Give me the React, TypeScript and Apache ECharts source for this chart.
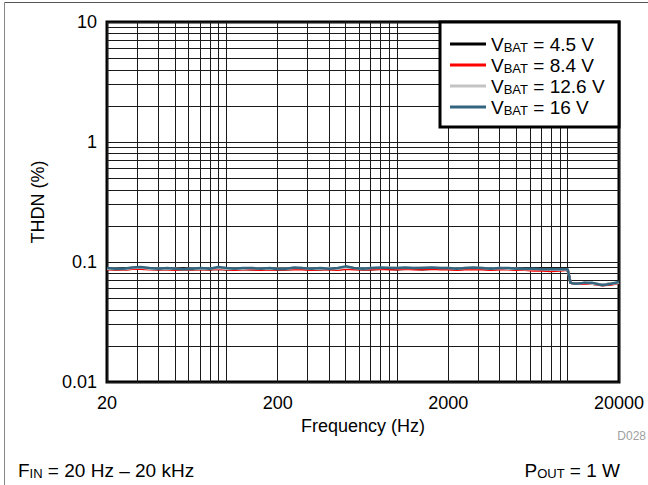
import React, { useEffect, useRef } from "react";
import * as echarts from "echarts";

// Measurement frequencies (Hz)
const freqs = [
  20, 22.4, 25, 28, 31.5, 35.5, 40, 45, 50, 56,
  63, 71, 80, 90, 100, 112, 125, 140, 160, 180,
  200, 224, 250, 280, 315, 355, 400, 450, 500, 560,
  630, 710, 800, 900, 1000, 1120, 1250, 1400, 1600, 1800,
  2000, 2240, 2500, 2800, 3150, 3550, 4000, 4500, 5000, 5600,
  6300, 7100, 8000, 9000, 10000, 10400, 11200, 12500, 14000, 16000,
  18000, 20000,
];

// THD+N (%) for each supply voltage
const thdn45 = [
  0.088, 0.087, 0.087, 0.088, 0.089, 0.088, 0.087, 0.088, 0.087, 0.087,
  0.087, 0.088, 0.087, 0.088, 0.087, 0.087, 0.088, 0.087, 0.087, 0.088,
  0.087, 0.087, 0.088, 0.088, 0.087, 0.087, 0.088, 0.087, 0.088, 0.088,
  0.087, 0.087, 0.088, 0.088, 0.087, 0.088, 0.088, 0.087, 0.088, 0.088,
  0.088, 0.087, 0.088, 0.088, 0.088, 0.087, 0.088, 0.088, 0.087, 0.087,
  0.087, 0.086, 0.086, 0.087, 0.087, 0.067, 0.066, 0.067, 0.066, 0.065,
  0.066, 0.067,
];
const thdn84 = [
  0.087, 0.087, 0.086, 0.088, 0.088, 0.087, 0.087, 0.087, 0.086, 0.086,
  0.087, 0.087, 0.087, 0.088, 0.087, 0.086, 0.087, 0.087, 0.086, 0.087,
  0.086, 0.087, 0.087, 0.087, 0.086, 0.087, 0.087, 0.086, 0.088, 0.087,
  0.087, 0.087, 0.088, 0.087, 0.087, 0.088, 0.087, 0.087, 0.088, 0.087,
  0.087, 0.086, 0.087, 0.087, 0.087, 0.086, 0.087, 0.087, 0.086, 0.086,
  0.085, 0.085, 0.084, 0.085, 0.086, 0.067, 0.066, 0.066, 0.066, 0.064,
  0.065, 0.067,
];
const thdn126 = [
  0.088, 0.088, 0.087, 0.089, 0.090, 0.088, 0.088, 0.088, 0.088, 0.087,
  0.088, 0.088, 0.088, 0.089, 0.088, 0.088, 0.088, 0.089, 0.088, 0.088,
  0.088, 0.088, 0.089, 0.089, 0.088, 0.088, 0.089, 0.088, 0.090, 0.089,
  0.088, 0.089, 0.089, 0.090, 0.089, 0.089, 0.089, 0.090, 0.090, 0.089,
  0.089, 0.088, 0.089, 0.089, 0.089, 0.088, 0.089, 0.088, 0.088, 0.087,
  0.087, 0.087, 0.086, 0.086, 0.087, 0.067, 0.066, 0.067, 0.066, 0.065,
  0.066, 0.067,
];
const thdn16 = [
  0.089, 0.088, 0.088, 0.090, 0.091, 0.089, 0.088, 0.089, 0.088, 0.087,
  0.088, 0.089, 0.088, 0.091, 0.089, 0.088, 0.089, 0.089, 0.088, 0.089,
  0.087, 0.088, 0.090, 0.089, 0.088, 0.089, 0.088, 0.089, 0.092, 0.089,
  0.088, 0.089, 0.090, 0.089, 0.089, 0.090, 0.089, 0.089, 0.090, 0.089,
  0.089, 0.088, 0.089, 0.090, 0.089, 0.088, 0.089, 0.089, 0.088, 0.088,
  0.088, 0.087, 0.087, 0.087, 0.087, 0.067, 0.066, 0.067, 0.067, 0.064,
  0.066, 0.068,
];

const seriesNames = ["4.5", "8.4", "12.6", "16"];
const seriesColors = ["#000000", "#ff0000", "#c4c4c4", "#33657f"];
const seriesValues = [thdn45, thdn84, thdn126, thdn16];

// Axis labels and grid-line positions
const xLabelValues = [20, 200, 2000, 20000];
const xGridValues = [
  20, 30, 40, 50, 60, 70, 80, 90, 100,
  200, 300, 400, 500, 600, 700, 800, 900, 1000,
  2000, 3000, 4000, 5000, 6000, 7000, 8000, 9000, 10000, 20000,
];
const yLabelValues = [0.01, 0.1, 1, 10];
const yGridValues = [
  0.01, 0.02, 0.03, 0.04, 0.05, 0.06, 0.07, 0.08, 0.09,
  0.1, 0.2, 0.3, 0.4, 0.5, 0.6, 0.7, 0.8, 0.9,
  1, 2, 3, 4, 5, 6, 7, 8, 9, 10,
];

const FONT = "Liberation Sans, Arial, Helvetica, sans-serif";

const subRich = {
  v: { fontSize: 19, lineHeight: 19, color: "#000", fill: "#000", fontFamily: FONT },
  s: {
    fontSize: 13,
    lineHeight: 13,
    padding: [7, 0, 0, 0],
    color: "#000",
    fill: "#000",
    fontFamily: FONT,
  },
};

export default function App() {
  const ref = useRef<HTMLDivElement>(null);

  useEffect(() => {
    if (!ref.current) return;
    const chart = echarts.init(ref.current, undefined, { renderer: "svg" });

    const gridLine = { show: true, lineStyle: { color: "#1a1a1a", width: 1 } };

    chart.setOption({
      animation: false,
      backgroundColor: "#fff",
      textStyle: { fontFamily: FONT },
      grid: {
        left: 107,
        right: 29,
        top: 22,
        bottom: 103,
        show: true,
        borderColor: "#000",
        borderWidth: 3,
        backgroundColor: "transparent",
      },
      xAxis: {
        type: "log",
        logBase: 10,
        min: 20,
        max: 20000,
        name: "Frequency (Hz)",
        nameLocation: "middle",
        nameGap: 29,
        nameTextStyle: { fontSize: 18, color: "#000", fontFamily: FONT },
        axisLine: { show: false },
        axisTick: { show: false, customValues: xGridValues },
        splitLine: gridLine,
        axisLabel: {
          customValues: xLabelValues,
          formatter: (v: number) => String(Math.round(v)),
          fontSize: 18,
          color: "#000",
          margin: 12,
          fontFamily: FONT,
        },
      },
      yAxis: {
        type: "log",
        logBase: 10,
        min: 0.01,
        max: 10,
        name: "THDN (%)",
        nameLocation: "middle",
        nameGap: 60,
        nameRotate: 90,
        nameTextStyle: { fontSize: 18, color: "#000", fontFamily: FONT },
        axisLine: { show: false },
        axisTick: { show: false, customValues: yGridValues },
        splitLine: gridLine,
        axisLabel: {
          customValues: yLabelValues,
          formatter: (v: number) => String(Number(v.toPrecision(3))),
          fontSize: 18,
          color: "#000",
          margin: 10,
          fontFamily: FONT,
        },
      },
      legend: {
        orient: "vertical",
        left: 450,
        top: 34,
        padding: 0,
        z: 10,
        icon: "rect",
        itemWidth: 36,
        itemHeight: 3,
        itemGap: 1,
        data: seriesNames,
        formatter: (name: string) => `{v|V}{s|BAT}{v| = ${name} V}`,
        textStyle: { color: "#000", fontFamily: FONT, rich: subRich },
      },
      graphic: [
        // outer frame edges
        {
          type: "line",
          shape: { x1: 4.5, y1: 2.5, x2: 648, y2: 2.5 },
          style: { stroke: "#555", lineWidth: 1 },
        },
        {
          type: "line",
          shape: { x1: 4.5, y1: 2.5, x2: 4.5, y2: 485 },
          style: { stroke: "#888", lineWidth: 1 },
        },
        // legend box
        {
          type: "rect",
          z: 8,
          shape: { x: 440, y: 22, width: 179, height: 105 },
          style: { fill: "#fff", stroke: "#000", lineWidth: 3 },
        },
        {
          type: "text",
          right: 2,
          top: 430,
          style: { text: "D028", fontSize: 12, fill: "#a0a0a0", fontFamily: FONT },
        },
        {
          type: "text",
          left: 18,
          top: 460,
          style: {
            text: "{v|F}{s|IN}{v| = 20 Hz – 20 kHz}",
            fontFamily: FONT,
            rich: subRich,
          },
        },
        {
          type: "text",
          right: 28,
          top: 460,
          style: {
            text: "{v|P}{s|OUT}{v| = 1 W}",
            fontFamily: FONT,
            rich: subRich,
          },
        },
      ],
      series: seriesNames.map((name, i) => ({
        name,
        type: "line",
        data: freqs.map((f, k) => [f, seriesValues[i][k]]),
        showSymbol: false,
        symbol: "none",
        color: seriesColors[i],
        lineStyle: { color: seriesColors[i], width: 2.5 },
        z: 3 + i * 0.1,
      })),
    });

    return () => chart.dispose();
  }, []);

  return (
    <div
      ref={ref}
      style={{ position: "absolute", left: 0, top: 0, width: 648, height: 485 }}
    />
  );
}
